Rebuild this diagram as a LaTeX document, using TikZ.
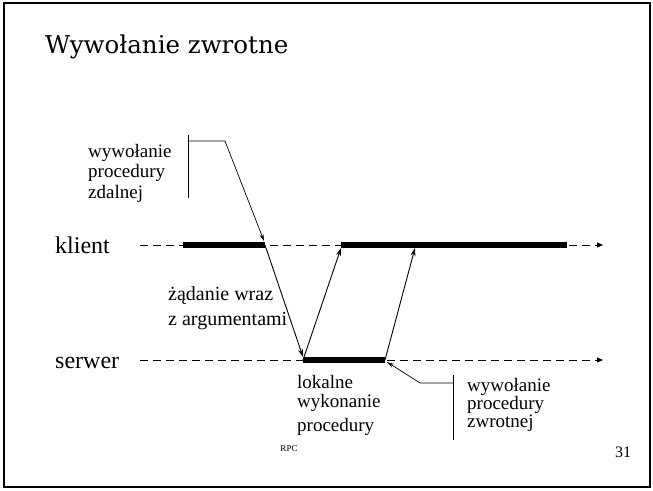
\documentclass[tikz,border=0pt]{standalone}
\usepackage{fontspec}
\setmainfont{Liberation Serif}
\newfontfamily\titlefont{DejaVu Serif}
\usetikzlibrary{arrows.meta}
\begin{document}
\begin{tikzpicture}[x=1pt,y=-1pt,
  timeline/.style={line width=0.9pt,dash pattern=on 8pt off 5pt,-{Triangle[length=6pt,width=5pt]}},
  busy/.style={line width=6pt},
  msg/.style={line width=0.9pt,-{Stealth[length=8pt,width=5pt]}},
  callout/.style={line width=0.7pt},
  calloutarrow/.style={line width=0.7pt,-{Stealth[length=7pt,width=4pt]}},
  lbl/.style={inner sep=0pt,align=left},
  axis/.style={inner sep=0pt,font=\fontsize{24}{26}\selectfont}]
\useasboundingbox (0,0) rectangle (653,490);
\draw[line width=2pt] (4,3) rectangle (650,487);
\node[anchor=base west,inner sep=0pt,font=\titlefont\fontsize{24.5}{30}\selectfont] (title) at (45,53) {Wywołanie zwrotne};
% time lines
\node[axis,anchor=base west] (klient) at (55,253) {klient};
\node[axis,anchor=base west] (serwer) at (55,368) {serwer};
\coordinate (kA) at (140,245);
\coordinate (kB) at (603,245);
\coordinate (sA) at (140,360);
\coordinate (sB) at (603,360);
\draw[timeline] (kA) -- (kB);
\draw[timeline] (sA) -- (sB);
\coordinate (k1) at (183,245);
\coordinate (k2) at (265,245);
\coordinate (k3) at (341,245);
\coordinate (k4) at (567,245);
\coordinate (k5) at (415,245);
\coordinate (s1) at (303,360);
\coordinate (s2) at (385,360);
\draw[busy] (k1) -- (k2);
\draw[busy] (k3) -- (k4);
\draw[busy] (s1) -- (s2);
\draw[msg] (k2) -- ([yshift=3pt]s1);
\draw[msg] (s1) -- ([yshift=-3pt]k3);
\draw[msg] (s2) -- ([yshift=-3pt]k5);
% labels
\node[lbl,anchor=base west,font=\fontsize{20}{25}\selectfont] (req) at (168,325) {żądanie wraz\\z argumentami};
\node[lbl,anchor=base west,font=\fontsize{19}{20.5}\selectfont] (rem) at (88,198) {wywołanie\\procedury\\zdalnej};
\node[lbl,anchor=base west,font=\fontsize{19}{19}\selectfont] (loc) at (297,431) {lokalne\\wykonanie\\[5pt]procedury};
\node[lbl,anchor=base west,font=\fontsize{19}{18}\selectfont] (cb) at (467,427) {wywołanie\\procedury\\zwrotnej};
% callouts
\coordinate (r1) at (188,135);
\coordinate (r2) at (188,198);
\coordinate (r3) at (188,141);
\coordinate (r4) at (225,141);
\coordinate (r5) at (264,241);
\draw[callout] (r1) -- (r2);
\draw[calloutarrow] (r3) -- (r4) -- (r5);
\coordinate (c1) at (453,375);
\coordinate (c2) at (453,440);
\coordinate (c3) at (453,383);
\coordinate (c4) at (420,383);
\coordinate (c5) at (387,362);
\draw[callout] (c1) -- (c2);
\draw[calloutarrow] (c3) -- (c4) -- (c5);
% footer
\node[inner sep=0pt,anchor=base,font=\fontsize{9}{10}\selectfont] (rpc) at (289,451) {RPC};
\node[inner sep=0pt,anchor=base west,font=\fontsize{16}{18}\selectfont] (pg) at (615,457) {31};
\end{tikzpicture}
\end{document}
